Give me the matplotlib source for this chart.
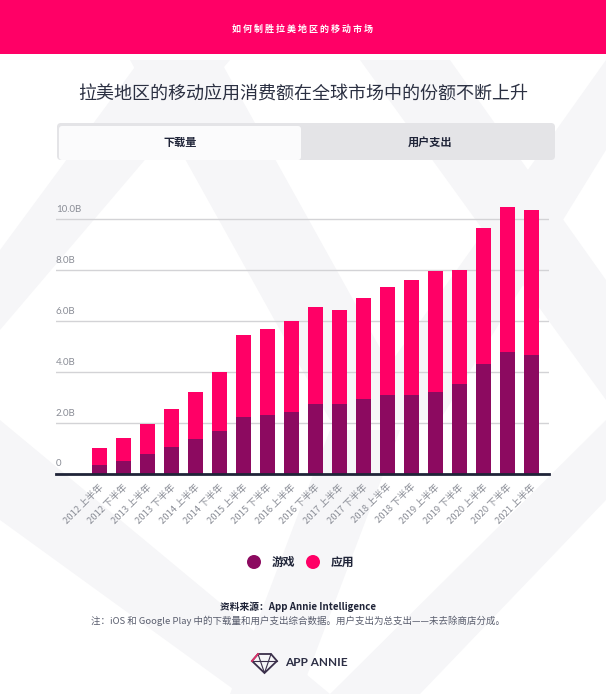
import numpy as np
import matplotlib
matplotlib.use("Agg")
import matplotlib.pyplot as plt
from matplotlib.patches import Rectangle, FancyBboxPatch, Polygon, Circle
from matplotlib.transforms import blended_transform_factory

plt.rcParams['font.family'] = ['Noto Sans CJK SC', 'DejaVu Sans']

# data (billions of downloads)
periods = ["2012 上半年", "2012 下半年", "2013 上半年", "2013 下半年", "2014 上半年",
           "2014 下半年", "2015 上半年", "2015 下半年", "2016 上半年", "2016 下半年",
           "2017 上半年", "2017 下半年", "2018 上半年", "2018 下半年", "2019 上半年",
           "2019 下半年", "2020 上半年", "2020 下半年", "2021 上半年"]
games = [0.35, 0.52, 0.79, 1.07, 1.36, 1.69, 2.24, 2.32, 2.43, 2.75,
         2.75, 2.94, 3.10, 3.10, 3.22, 3.53, 4.32, 4.79, 4.67]
totals = [1.02, 1.41, 1.96, 2.55, 3.22, 4.00, 5.46, 5.69, 6.01, 6.56,
          6.44, 6.91, 7.34, 7.62, 7.97, 8.01, 9.66, 10.48, 10.37]
apps = [t - g for t, g in zip(totals, games)]
yticks = [0, 2, 4, 6, 8, 10]
ylabels = ["0", "2.0B", "4.0B", "6.0B", "8.0B", "10.0B"]

W, H = 606, 694
PINK = "#ff0066"
PURPLE = "#8c0a60"
NAVY = "#1f2438"

fig = plt.figure(figsize=(W / 100, H / 100), dpi=100)
fig.patch.set_facecolor("white")

# background layer in pixel coords
bg = fig.add_axes([0, 0, 1, 1], zorder=0)
bg.set_xlim(0, W)
bg.set_ylim(H, 0)
bg.axis("off")

# faint watermark bands
wm = "#f6f6f8"
bands = [
    [(0, 330), (0, 250), (140, 60), (230, 60)],
    [(130, 60), (220, 60), (420, 420), (330, 420)],
    [(360, 60), (450, 60), (606, 280), (606, 400)],
    [(606, 60), (606, 150), (440, 420), (350, 420)],
    [(0, 420), (0, 520), (240, 694), (330, 694)],
    [(330, 430), (400, 430), (300, 694), (230, 694)],
    [(606, 420), (606, 500), (420, 694), (330, 694)],
]
for b in bands:
    bg.add_patch(Polygon(b, closed=True, facecolor=wm, edgecolor="none"))

# top banner
bg.add_patch(Rectangle((0, 0), W, 54, facecolor=PINK, edgecolor="none"))
bg.text(W / 2, 29, "如 何 制 胜 拉 美 地 区 的 移 动 市 场", color="white",
        fontsize=6.5, ha="center", va="center", fontweight="bold")

# title
bg.text(W / 2, 95, "拉美地区的移动应用消费额在全球市场中的份额不断上升",
        color="#2b3042", fontsize=13, ha="center", va="center")

# tabs
bg.add_patch(FancyBboxPatch((57, 123), 498, 37, boxstyle="round,pad=0,rounding_size=4",
                            facecolor="#e4e4e7", edgecolor="none"))
bg.add_patch(FancyBboxPatch((59, 126), 242, 34, boxstyle="round,pad=0,rounding_size=3",
                            facecolor="#fbfbfc", edgecolor="none"))
bg.text(180, 142, "下载量", color=NAVY, fontsize=8, fontweight="bold",
        ha="center", va="center")
bg.text(430, 142, "用户支出", color=NAVY, fontsize=8, fontweight="bold",
        ha="center", va="center")

# legend
bg.add_patch(Circle((254, 562), 7, facecolor=PURPLE, edgecolor="none"))
bg.text(272, 562, "游戏", color=NAVY, fontsize=8.5, fontweight="bold", va="center")
bg.add_patch(Circle((313, 562), 7, facecolor=PINK, edgecolor="none"))
bg.text(331, 562, "应用", color=NAVY, fontsize=8.5, fontweight="bold", va="center")

# source and note
bg.text(298, 607, "资料来源：App Annie Intelligence", color=NAVY, fontsize=7,
        fontweight="bold", style="italic", ha="center", va="center")
bg.text(298, 621, "注：iOS 和 Google Play 中的下载量和用户支出综合数据。用户支出为总支出——未去除商店分成。",
        color="#5a5e6e", fontsize=6.8, style="italic", ha="center", va="center")

# logo
gem = [(252, 661), (258, 654), (271, 654), (277, 661), (264.5, 673)]
bg.add_patch(Polygon(gem, closed=True, facecolor="none", edgecolor="#3a2f4a", lw=1.3))
bg.plot([252, 277], [661, 661], color="#3a2f4a", lw=0.8)
bg.plot([258, 264.5, 271], [654, 673, 654], color="#3a2f4a", lw=0.8)
bg.plot([252, 258], [661, 654], color="#e0306a", lw=1.3)
bg.text(285, 663, "APP ANNIE", color="#2d2f45", fontsize=8.5, fontweight="bold",
        ha="left", va="center", family=["Lato", "DejaVu Sans"])

# chart axes: x from 56 to 549 px, baseline at 474 px, 1B = 25.47 px
left, right, base = 56, 549, 474
ppb = 25.47
ymax = 11.0
top = base - ymax * ppb
ax = fig.add_axes([left / W, 1 - base / H, (right - left) / W, (base - top) / H], zorder=2)
ax.patch.set_alpha(0)

x = np.arange(len(periods))
ax.bar(x, games, width=0.62, color=PURPLE, zorder=3)
ax.bar(x, apps, bottom=games, width=0.62, color=PINK, zorder=3)

ax.set_xlim(-1.8, len(periods) - 1 + 0.74)
ax.set_ylim(0, ymax)

for s in ["top", "right", "left"]:
    ax.spines[s].set_visible(False)
ax.spines["bottom"].set_color(NAVY)
ax.spines["bottom"].set_linewidth(2)
ax.spines["bottom"].set_zorder(4)

for v in yticks[1:]:
    ax.axhline(v, color="#d3d3d6", lw=1, zorder=1)
ax.set_yticks([])
trans = blended_transform_factory(ax.transAxes, ax.transData)
for v, lab in zip(yticks, ylabels):
    ax.annotate(lab, (0, v), xycoords=trans, xytext=(0, 4), textcoords="offset points",
                ha="left", va="bottom", fontsize=7, color="#8a8d96",
                family=["Lato", "DejaVu Sans"])

ax.set_xticks(x)
ax.set_xticklabels(periods, rotation=45, ha="right", rotation_mode="anchor",
                   fontsize=6.8, color="#8a8d96")
ax.tick_params(axis="x", length=0, pad=6)

fig.savefig("out.png", dpi=100, facecolor="white")
